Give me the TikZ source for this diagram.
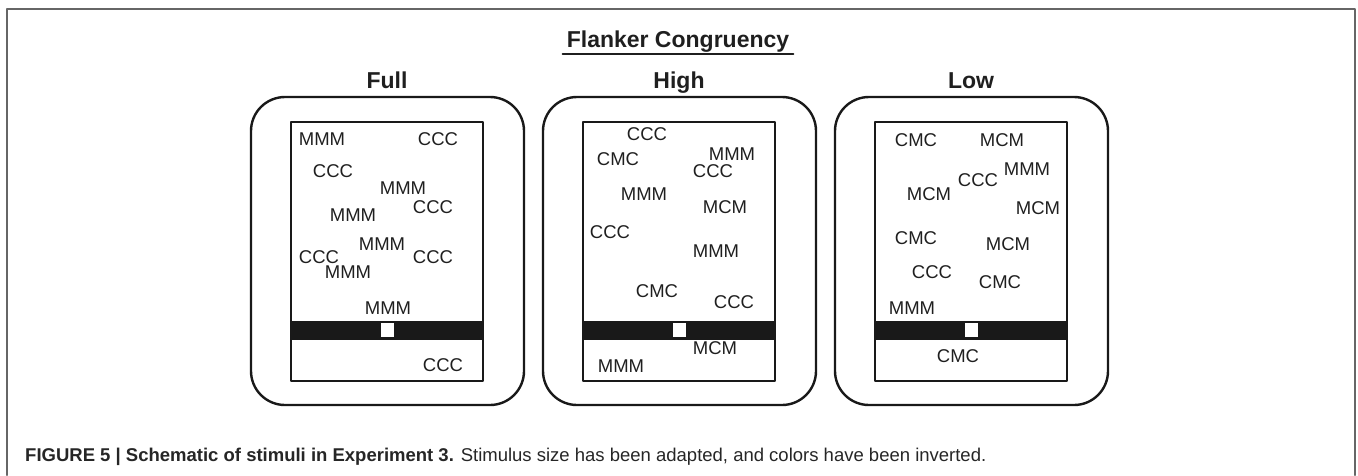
\documentclass[tikz,border=0pt]{standalone}
\usepackage{fontspec}
\setmainfont{Liberation Sans}
\newfontfamily\capfont{Liberation Sans}
\begin{document}
\begin{tikzpicture}[x=1pt, y=-1pt, line join=round, line cap=round,
		stim/.style={inner sep=0pt, text=black!88, font=\fontsize{18.5}{20}\selectfont},
		head/.style={inner sep=0pt, text=black!88, font=\fontsize{23}{26}\selectfont\bfseries},
		outerbox/.style={draw=black!90, line width=2.4pt, rounded corners=34pt},
		screen/.style={draw=black!90, line width=2pt},
		frame/.style={draw=black!60, line width=2pt}]
	\useasboundingbox (0,0) rectangle (1358,475);
	\draw[frame] (7,475)--(7,9)--(1355,9)--(1355,475);
	% heading
	\node[head, anchor=base] (title) at (678,47) {Flanker Congruency};
	\draw[line width=2pt, black!88] ([xshift=-4pt,yshift=-7pt]title.base west)--([xshift=4pt,yshift=-7pt]title.base east);
	% the three screens
	\foreach \p/\ox/\lab in {full/291/Full, high/583/High, low/875/Low}{
		\node[head, anchor=base] (\p) at (\ox+96,88) {\lab};
		\draw[outerbox] (\ox-40,97) rectangle (\ox+233,405);
		\draw[screen] (\ox,122) rectangle (\ox+192,381);
		\fill[black!90] (\ox,321) rectangle (\ox+192,340);
		\fill[white] (\ox+90,323) rectangle (\ox+103,337);}
	% flankers
	\foreach \x/\y/\t [count=\i] in {322/139/MMM, 438/139/CCC, 333/171/CCC, 403/188/MMM, 433/207/CCC, 353/215/MMM,
			382/244/MMM, 319/257/CCC, 433/257/CCC, 348/272/MMM, 388/308/MMM, 443/365/CCC,
			647/134/CCC, 618/159/CMC, 732/154/MMM, 713/171/CCC, 644/194/MMM, 725/207/MCM,
			610/232/CCC, 716/251/MMM, 657/291/CMC, 734/302/CCC, 715/348/MCM, 621/366/MMM,
			916/140/CMC, 1002/140/MCM, 1027/169/MMM, 978/180/CCC, 929/194/MCM, 1038/208/MCM,
			916/238/CMC, 1008/244/MCM, 932/272/CCC, 1000/282/CMC, 912/308/MMM, 958/356/CMC}{
		\node[stim] (s\i) at (\x,\y) {\t};}
	% caption
	\node[anchor=base west, inner sep=0pt, text=black!85, font=\capfont\fontsize{18.5}{21}\selectfont] (cap) at (25,461)
		{\textbf{FIGURE 5 | Schematic of stimuli in Experiment 3.} Stimulus size has been adapted, and colors have been inverted.};
\end{tikzpicture}
\end{document}
